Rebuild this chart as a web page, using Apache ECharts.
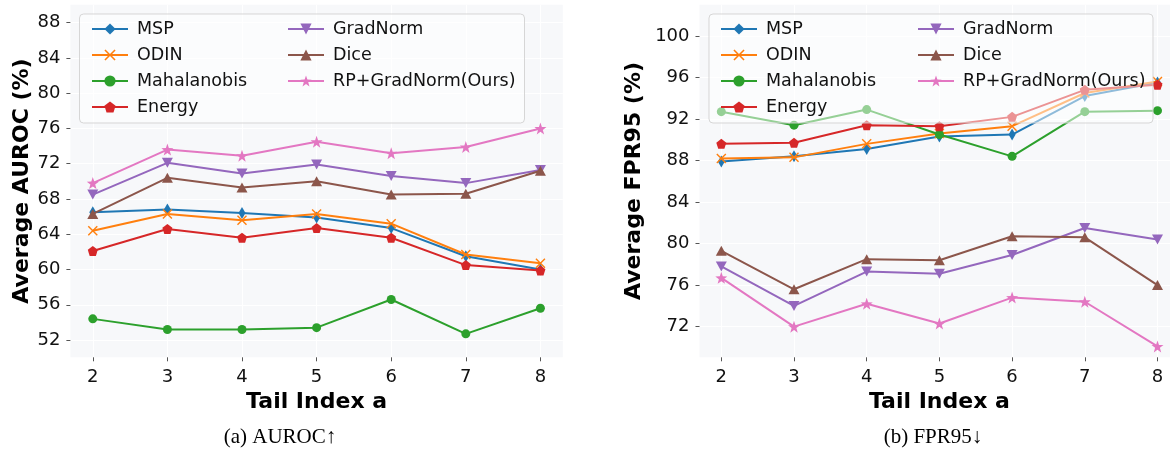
<!DOCTYPE html>
<html>
<head>
<meta charset="utf-8">
<script src="https://cdn.jsdelivr.net/npm/echarts@6/dist/echarts.min.js"></script>
<style>
html,body{margin:0;padding:0;background:#fff;}
#c{width:1170px;height:464px;}
</style>
</head>
<body>
<div id="c"></div>
<script>
// ---------------- data ----------------
const tailIndex = [2, 3, 4, 5, 6, 7, 8];
const methods = ['MSP', 'ODIN', 'Mahalanobis', 'Energy', 'GradNorm', 'Dice', 'RP+GradNorm(Ours)'];

const aurocMSP   = [66.5, 66.8, 66.4, 65.9, 64.7, 61.5, 60.0];
const aurocODIN  = [64.4, 66.3, 65.6, 66.3, 65.2, 61.7, 60.7];
const aurocMaha  = [54.4, 53.2, 53.2, 53.4, 56.6, 52.7, 55.6];
const aurocEnergy= [62.1, 64.6, 63.6, 64.7, 63.6, 60.5, 59.9];
const aurocGrad  = [68.5, 72.1, 70.9, 71.9, 70.6, 69.8, 71.3];
const aurocDice  = [66.3, 70.4, 69.3, 70.0, 68.5, 68.6, 71.2];
const aurocRP    = [69.8, 73.6, 72.9, 74.5, 73.2, 73.9, 76.0];

const fprMSP     = [87.9, 88.4, 89.1, 90.3, 90.5, 94.2, 95.5];
const fprODIN    = [88.2, 88.3, 89.6, 90.6, 91.3, 94.5, 95.6];
const fprMaha    = [92.7, 91.4, 92.9, 90.5, 88.4, 92.7, 92.8];
const fprEnergy  = [89.6, 89.7, 91.4, 91.3, 92.2, 94.8, 95.3];
const fprGrad    = [77.8, 74.0, 77.3, 77.1, 78.9, 81.5, 80.4];
const fprDice    = [79.3, 75.6, 78.5, 78.4, 80.7, 80.6, 76.0];
const fprRP      = [76.7, 72.0, 74.2, 72.3, 74.8, 74.4, 70.1];

const aurocTicks = [52, 56, 60, 64, 68, 72, 76, 80, 84, 88];
const fprTicks   = [72, 76, 80, 84, 88, 92, 96, 100];

const aurocSeries = [aurocMSP, aurocODIN, aurocMaha, aurocEnergy, aurocGrad, aurocDice, aurocRP];
const fprSeries   = [fprMSP, fprODIN, fprMaha, fprEnergy, fprGrad, fprDice, fprRP];

// ---------------- styles ----------------
const colors = ['#1f77b4', '#ff7f0e', '#2ca02c', '#d62728', '#9467bd', '#8c564b', '#e377c2'];
const symbols = [
  'path://M0,-10L6,0L0,10L-6,0Z',
  'path://M-5,-4L-4,-5L0,-1L4,-5L5,-4L1,0L5,4L4,5L0,1L-4,5L-5,4L-1,0Z',
  'circle',
  'path://M0,-10L9.51,-3.09L5.88,8.09L-5.88,8.09L-9.51,-3.09Z',
  'path://M-5,-4.3L5,-4.3L0,4.3Z',
  'path://M-5,4.3L5,4.3L0,-4.3Z',
  'path://M0,-10L2.35,-3.24L9.51,-3.09L3.8,1.24L5.88,8.09L0,4L-5.88,8.09L-3.8,1.24L-9.51,-3.09L-2.35,-3.24Z'
];
const symSizes = [[7, 12], [10, 10], 9, [10, 10], [11, 10], [11, 10], [12, 12]];

const FONT = 'DejaVu Sans';
const TXT = '#111';

function makeSeries(arrs, axisIdx) {
  return arrs.map((vals, i) => ({
    name: methods[i],
    type: 'line',
    xAxisIndex: axisIdx,
    yAxisIndex: axisIdx,
    data: tailIndex.map((x, k) => [x, vals[k]]),
    symbol: symbols[i],
    symbolSize: symSizes[i],
    showAllSymbol: true,
    color: colors[i],
    lineStyle: { width: 2, color: colors[i] },
    itemStyle: { color: colors[i] },
    emphasis: { disabled: true },
    animation: false,
    z: 2 + i * 0.01
  }));
}

function xAxisCfg(gi) {
  return {
    type: 'value', gridIndex: gi, min: 1.7, max: 8.3,
    name: 'Tail Index a', nameLocation: 'middle', nameGap: 31,
    nameTextStyle: { fontFamily: FONT, fontWeight: 'bold', fontSize: 22, color: '#000' },
    axisLine: { show: false },
    axisTick: { show: true, length: 4, lineStyle: { color: '#555', width: 1 }, customValues: tailIndex },
    axisLabel: { fontFamily: FONT, fontSize: 18, color: TXT, margin: 11, customValues: tailIndex },
    splitLine: { show: true, lineStyle: { color: '#ffffff', width: 1 } }
  };
}
function yAxisCfg(gi, name, min, max, ticks, gap) {
  return {
    type: 'value', gridIndex: gi, min: min, max: max,
    name: name, nameLocation: 'middle', nameGap: gap, nameRotate: 90,
    nameTextStyle: { fontFamily: FONT, fontWeight: 'bold', fontSize: 22, color: '#000' },
    axisLine: { show: false },
    axisTick: { show: true, length: 4, lineStyle: { color: '#555', width: 1 }, customValues: ticks },
    axisLabel: { fontFamily: FONT, fontSize: 18, color: TXT, margin: 10, customValues: ticks },
    splitLine: { show: true, lineStyle: { color: '#ffffff', width: 1 } }
  };
}

function legendCfg(left, names) {
  return {
    left: left, top: 15, orient: 'vertical',
    data: names, itemWidth: 36, itemHeight: 14, itemGap: 8,
    selectedMode: false, z: 100,
    textStyle: { fontFamily: FONT, fontSize: 17.5, color: TXT, padding: [0, 0, 0, 4] }
  };
}

const chart = echarts.init(document.getElementById('c'), null, { renderer: 'canvas' });
chart.setOption({
  animation: false,
  backgroundColor: '#ffffff',
  grid: [
    { left: 70.4, top: 4.7, width: 492.4, height: 352.6, show: true, backgroundColor: '#f7f8fa', borderWidth: 0, outerBoundsMode: 'none', containLabel: false },
    { left: 699.5, top: 4.7, width: 479.8, height: 352.6, show: true, backgroundColor: '#f7f8fa', borderWidth: 0, outerBoundsMode: 'none', containLabel: false }
  ],
  xAxis: [xAxisCfg(0), xAxisCfg(1)],
  yAxis: [
    yAxisCfg(0, 'Average AUROC (%)', 50.04, 90.04, aurocTicks, 34),
    yAxisCfg(1, 'Average FPR95 (%)', 69.05, 103.0, fprTicks, 54)
  ],
  legend: [
    legendCfg(86, methods.slice(0, 4)),
    legendCfg(282, methods.slice(4)),
    legendCfg(715, methods.slice(0, 4)),
    legendCfg(912, methods.slice(4))
  ],
  graphic: [
    { type: 'rect', z: 50, shape: { x: 79.5, y: 14, width: 445, height: 109, r: 4 },
      style: { fill: 'rgba(255,255,255,0.5)', stroke: 'rgba(210,210,210,0.9)', lineWidth: 1 } },
    { type: 'rect', z: 50, shape: { x: 709, y: 14, width: 444, height: 109, r: 4 },
      style: { fill: 'rgba(255,255,255,0.5)', stroke: 'rgba(210,210,210,0.9)', lineWidth: 1 } },
    { type: 'text', z: 60, x: 280, y: 437,
      style: { text: '(a) AUROC↑', font: '21px "Liberation Serif", serif', fill: '#000', textAlign: 'center', textVerticalAlign: 'middle' } },
    { type: 'text', z: 60, x: 933, y: 437,
      style: { text: '(b) FPR95↓', font: '21px "Liberation Serif", serif', fill: '#000', textAlign: 'center', textVerticalAlign: 'middle' } }
  ],
  series: makeSeries(aurocSeries, 0).concat(makeSeries(fprSeries, 1))
});
</script>
</body>
</html>
